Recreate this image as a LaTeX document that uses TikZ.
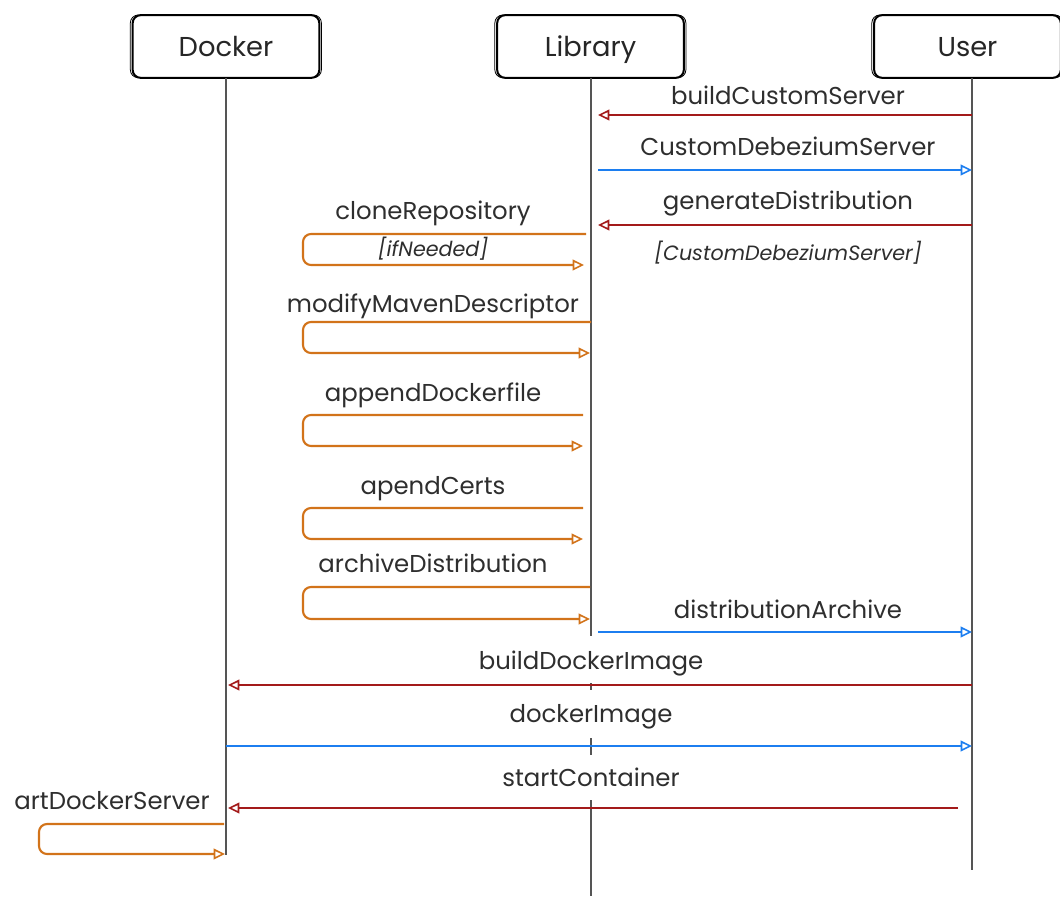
\documentclass[tikz,border=0pt]{standalone}
\usepackage{fontspec}
\setmainfont{Poppins}
\usetikzlibrary{arrows.meta}
\definecolor{cred}{HTML}{A31A1A}
\definecolor{cblue}{HTML}{1C7EF0}
\definecolor{corange}{HTML}{D2731A}
\definecolor{cline}{HTML}{555555}
\begin{document}
\begin{tikzpicture}[x=0.75pt,y=-0.75pt,
  actor/.style={draw=black, line width=1.5pt, rounded corners=6pt, minimum width=140pt, minimum height=47pt, font=\fontsize{20.5}{24}\selectfont, inner sep=0pt, text=black!85},
  atext/.style={font=\fontsize{20.5}{24}\selectfont, inner sep=0pt, text=black!85, text height=0.95em, text depth=0.22em, yshift=-3.5pt},
  life/.style={draw=cline, line width=1.1pt},
  msg/.style={line width=1.6pt, -{Triangle[open, length=8.5pt, width=8pt, line width=1.2pt]}},
  red/.style={msg, draw=cred},
  blue/.style={msg, draw=cblue},
  orange/.style={msg, draw=corange, rounded corners=6pt},
  lbl/.style={font=\fontsize{18.3}{22}\selectfont, inner sep=1pt, text=black!82, text height=0.95em, text depth=0.22em, yshift=-3pt},
  guard/.style={font=\fontsize{15.5}{19}\selectfont\itshape, inner sep=1pt, text=black!82, text height=0.95em, text depth=0.22em, yshift=-2.5pt}
]
\useasboundingbox (0,0) rectangle (1060,896);
% actors
\node[actor] (docker) at (226,46.5) {};
\node[actor] (library) at (590.5,46.5) {};
\node[actor] (user) at (967.5,46.5) {};
\node[atext] (dockerT) at (docker.center) {Docker};
\node[atext] (libraryT) at (library.center) {Library};
\node[atext] (userT) at (user.center) {User};
\foreach \n in {docker,library,user}{
  \draw[line width=0.6pt, rounded corners=6pt] ([xshift=-1pt,yshift=0.8pt]\n.south west) rectangle ([xshift=0.8pt,yshift=-0.6pt]\n.north east);
}
% lifelines
\coordinate (dTop) at (226,78); \coordinate (dBot) at (226,855);
\coordinate (lTop) at (591,78); \coordinate (lMid) at (591,636);
\coordinate (uTop) at (972,78); \coordinate (uBot) at (972,870);
\draw[life] (dTop) -- (dBot);
\draw[life] (lTop) -- (lMid);
\draw[life] (uTop) -- (uBot);
\coordinate (l1a) at (591,683); \coordinate (l1b) at (591,690);
\coordinate (l2a) at (591,738); \coordinate (l2b) at (591,755);
\coordinate (l3a) at (591,800); \coordinate (l3b) at (591,896);
\draw[life] (l1a) -- (l1b);
\draw[life] (l2a) -- (l2b);
\draw[life] (l3a) -- (l3b);
% messages between lifelines
\coordinate (u1) at (972,115); \coordinate (L1) at (598,115);
\draw[red] (u1) -- (L1);
\node[lbl] (t1) at (788,96) {buildCustomServer};
\coordinate (L2) at (598,170); \coordinate (u2) at (972,170);
\draw[blue] (L2) -- (u2);
\node[lbl] (t2) at (788,147) {CustomDebeziumServer};
\coordinate (u3) at (972,225); \coordinate (L3) at (598,225);
\draw[red] (u3) -- (L3);
\node[lbl] (t3) at (788,201) {generateDistribution};
\node[guard] (g3) at (788,252) {[CustomDebeziumServer]};
% self loops on Library
\coordinate (s1a) at (586,234); \coordinate (s1b) at (584,265);
\draw[orange] (s1a) -- (303,234) -- (303,265) -- (s1b);
\node[lbl] (t4) at (433,211) {cloneRepository};
\node[guard] (g4) at (433,248) {[ifNeeded]};
\coordinate (s2a) at (591,322); \coordinate (s2b) at (590,353);
\draw[orange] (s2a) -- (303,322) -- (303,353) -- (s2b);
\node[lbl] (t5) at (433,304) {modifyMavenDescriptor};
\coordinate (s3a) at (583,415); \coordinate (s3b) at (583,446);
\draw[orange] (s3a) -- (303,415) -- (303,446) -- (s3b);
\node[lbl] (t6) at (433,393) {appendDockerfile};
\coordinate (s4a) at (583,508); \coordinate (s4b) at (583,539);
\draw[orange] (s4a) -- (303,508) -- (303,539) -- (s4b);
\node[lbl] (t7) at (433,486) {apendCerts};
\coordinate (s5a) at (590,587); \coordinate (s5b) at (590,619);
\draw[orange] (s5a) -- (303,587) -- (303,619) -- (s5b);
\node[lbl] (t8) at (433,564) {archiveDistribution};
% distributionArchive
\coordinate (L9) at (598,632); \coordinate (u9) at (972,632);
\draw[blue] (L9) -- (u9);
\node[lbl] (t9) at (788,610) {distributionArchive};
% docker messages
\coordinate (u10) at (972,685); \coordinate (d10) at (228,685);
\draw[red] (u10) -- (d10);
\node[lbl] (t10) at (591,661) {buildDockerImage};
\coordinate (d11) at (226,746); \coordinate (u11) at (972,746);
\draw[blue] (d11) -- (u11);
\node[lbl] (t11) at (591,714) {dockerImage};
\coordinate (u12) at (958,808); \coordinate (d12) at (228,808);
\draw[red] (u12) -- (d12);
\node[lbl] (t12) at (591,778) {startContainer};
% self loop on Docker
\coordinate (s13a) at (224,824); \coordinate (s13b) at (225,854);
\draw[orange] (s13a) -- (39,824) -- (39,854) -- (s13b);
\node[lbl] (t13) at (112,801) {artDockerServer};
\end{tikzpicture}
\end{document}
